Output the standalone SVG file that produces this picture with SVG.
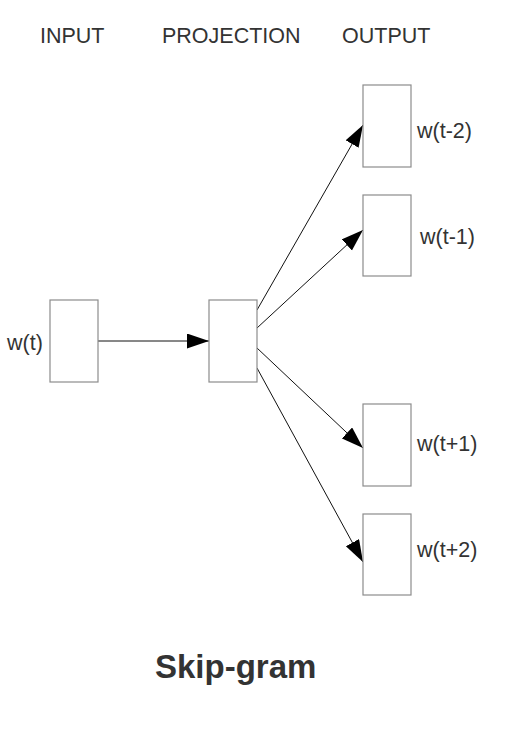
<svg xmlns="http://www.w3.org/2000/svg" width="512" height="738" viewBox="0 0 512 738">
<style>
.box{fill:#fff;stroke:#8c8c8c;stroke-width:1.2}
.lbl{font-family:"Liberation Sans",Arial,sans-serif;font-size:21.5px;fill:#333}
.edge{stroke:#111;stroke-width:1;fill:none;marker-end:url(#arr)}
</style>
<defs>
<marker id="arr" markerUnits="userSpaceOnUse" markerWidth="23" markerHeight="16" refX="22" refY="7.5" orient="auto">
<path d="M0,0 L22,7.5 L0,15 z" fill="#000"/>
</marker>
</defs>
<rect width="512" height="738" fill="#fff"/>
<g id="headers">
<text class="lbl" x="40" y="43">INPUT</text>
<text class="lbl" x="162" y="43">PROJECTION</text>
<text class="lbl" x="342" y="43">OUTPUT</text>
</g>
<g id="connectors">
<line class="edge" x1="97" y1="341" x2="209" y2="341"/>
<line class="edge" x1="257" y1="310" x2="363" y2="125"/>
<line class="edge" x1="257" y1="328" x2="363" y2="230"/>
<line class="edge" x1="257" y1="348" x2="363" y2="448"/>
<line class="edge" x1="257" y1="368" x2="363" y2="562"/>
</g>
<g id="input"><rect class="box" x="50" y="300" width="48" height="82"/><text class="lbl" x="7" y="350">w(t)</text></g>
<g id="projection"><rect class="box" x="209" y="300" width="48" height="82"/></g>
<g id="out1"><rect class="box" x="363" y="85" width="48" height="82"/><text class="lbl" x="417" y="138">w(t-2)</text></g>
<g id="out2"><rect class="box" x="363" y="195" width="48" height="81"/><text class="lbl" x="420" y="244">w(t-1)</text></g>
<g id="out3"><rect class="box" x="363" y="404" width="48" height="82"/><text class="lbl" x="417" y="451">w(t+1)</text></g>
<g id="out4"><rect class="box" x="363" y="514" width="48" height="81"/><text class="lbl" x="417" y="557">w(t+2)</text></g>
<g id="title"><text x="155" y="678" font-family="'Liberation Sans',Arial,sans-serif" font-size="33" font-weight="bold" fill="#333">Skip-gram</text></g>
</svg>
